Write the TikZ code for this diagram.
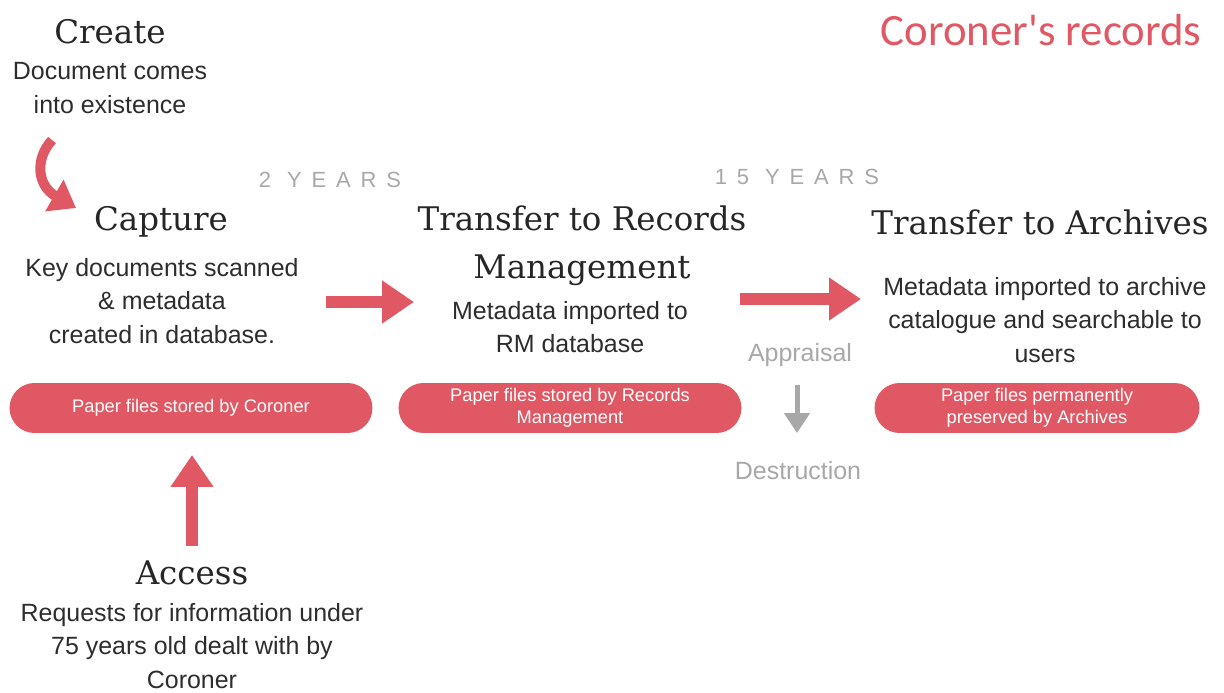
\documentclass[tikz,border=0pt]{standalone}
\usepackage{fontspec}
\newfontfamily\bodyfont{Liberation Sans}
\newfontfamily\titlefont{Carlito}
\newfontfamily\headfont{DejaVu Serif}
\usetikzlibrary{arrows.meta}
\definecolor{recred}{RGB}{224,88,100}
\definecolor{recgrey}{RGB}{168,168,168}
\definecolor{inkgrey}{RGB}{45,45,45}
\tikzset{
  heading/.style={font=\headfont\fontsize{18.5}{27.5}\selectfont, text=black!85, align=center, inner sep=0pt},
  body/.style={font=\bodyfont\fontsize{14.2}{19}\selectfont, text=inkgrey, align=center, inner sep=0pt},
  faint/.style={font=\bodyfont\fontsize{14.2}{19}\selectfont, text=recgrey, inner sep=0pt},
  years/.style={font=\bodyfont\fontsize{12.5}{15}\selectfont\addfontfeature{LetterSpace=45}, text=recgrey, inner sep=0pt},
  pill/.style={fill=recred, rounded corners=0.5cm, minimum height=1cm, align=center, text=white,
    font=\bodyfont\fontsize{10.4}{12.5}\selectfont, inner sep=0pt},
  bigarrow/.style={draw=recred, line width=0.23cm, -{Triangle[width=0.82cm,length=0.64cm]}},
  thinarrow/.style={draw=recgrey, line width=0.1cm, -{Triangle[width=0.5cm,length=0.4cm]}}
}
\begin{document}
\begin{tikzpicture}[x=0.02cm,y=-0.02cm]
  \useasboundingbox[fill=white] (0,0) rectangle (1224,693);
  % title
  \node[font=\titlefont\fontsize{25.5}{30}\selectfont, text=recred, inner sep=0pt] (title) at (1041,30) {Coroner's records};
  % create
  \node[heading] (create) at (110,32) {Create};
  \node[body] (createtxt) at (110,88) {Document comes\\into existence};
  % capture
  \node[heading] (capture) at (161,222) {Capture};
  \node[body] (capturetxt) at (162,301) {Key documents scanned\\\& metadata\\created in database.};
  \node[pill, minimum width=7.26cm] (coroner) at (191,408) {Paper files stored by Coroner};
  % records management
  \node[years] (twoyears) at (330,180) {2 YEARS};
  \node[heading] (rm) at (582,246) {Transfer to Records\\Management};
  \node[body] (rmtxt) at (570,327) {Metadata imported to\\RM database};
  \node[pill, minimum width=6.86cm] (rmfiles) at (570,408) {Paper files stored by Records\\Management};
  % archives
  \node[years] (fifteenyears) at (797,177) {15 YEARS};
  \node[heading] (arch) at (1040,222) {Transfer to Archives};
  \node[body] (archtxt) at (1045,320) {Metadata imported to archive\\catalogue and searchable to\\users};
  \node[pill, minimum width=6.5cm] (archfiles) at (1037,408) {Paper files permanently\\preserved by Archives};
  % appraisal
  \node[faint] (appraisal) at (800,355) {Appraisal};
  \node[faint] (destruction) at (798,471) {Destruction};
  % access
  \node[heading] (access) at (192,573) {Access};
  \node[body] (accesstxt) at (192,646) {Requests for information under\\75 years old dealt with by\\Coroner};
  % arrows
  \coordinate (c1) at (52,140);
  \coordinate (c2) at (76,208);
  \coordinate (a1) at (326,302);
  \coordinate (a2) at (414,302);
  \coordinate (b1) at (740,299);
  \coordinate (b2) at (861,299);
  \coordinate (d1) at (797,385);
  \coordinate (d2) at (797,433);
  \coordinate (u1) at (192,546);
  \coordinate (u2) at (192,455);
  \draw[bigarrow, line width=0.2cm, -{Triangle[width=0.7cm,length=0.5cm]}] (c1) .. controls (34,160) and (38,186) .. (c2);
  \draw[bigarrow] (a1) -- (a2);
  \draw[bigarrow] (b1) -- (b2);
  \draw[bigarrow] (u1) -- (u2);
  \draw[thinarrow] (d1) -- (d2);
\end{tikzpicture}
\end{document}
